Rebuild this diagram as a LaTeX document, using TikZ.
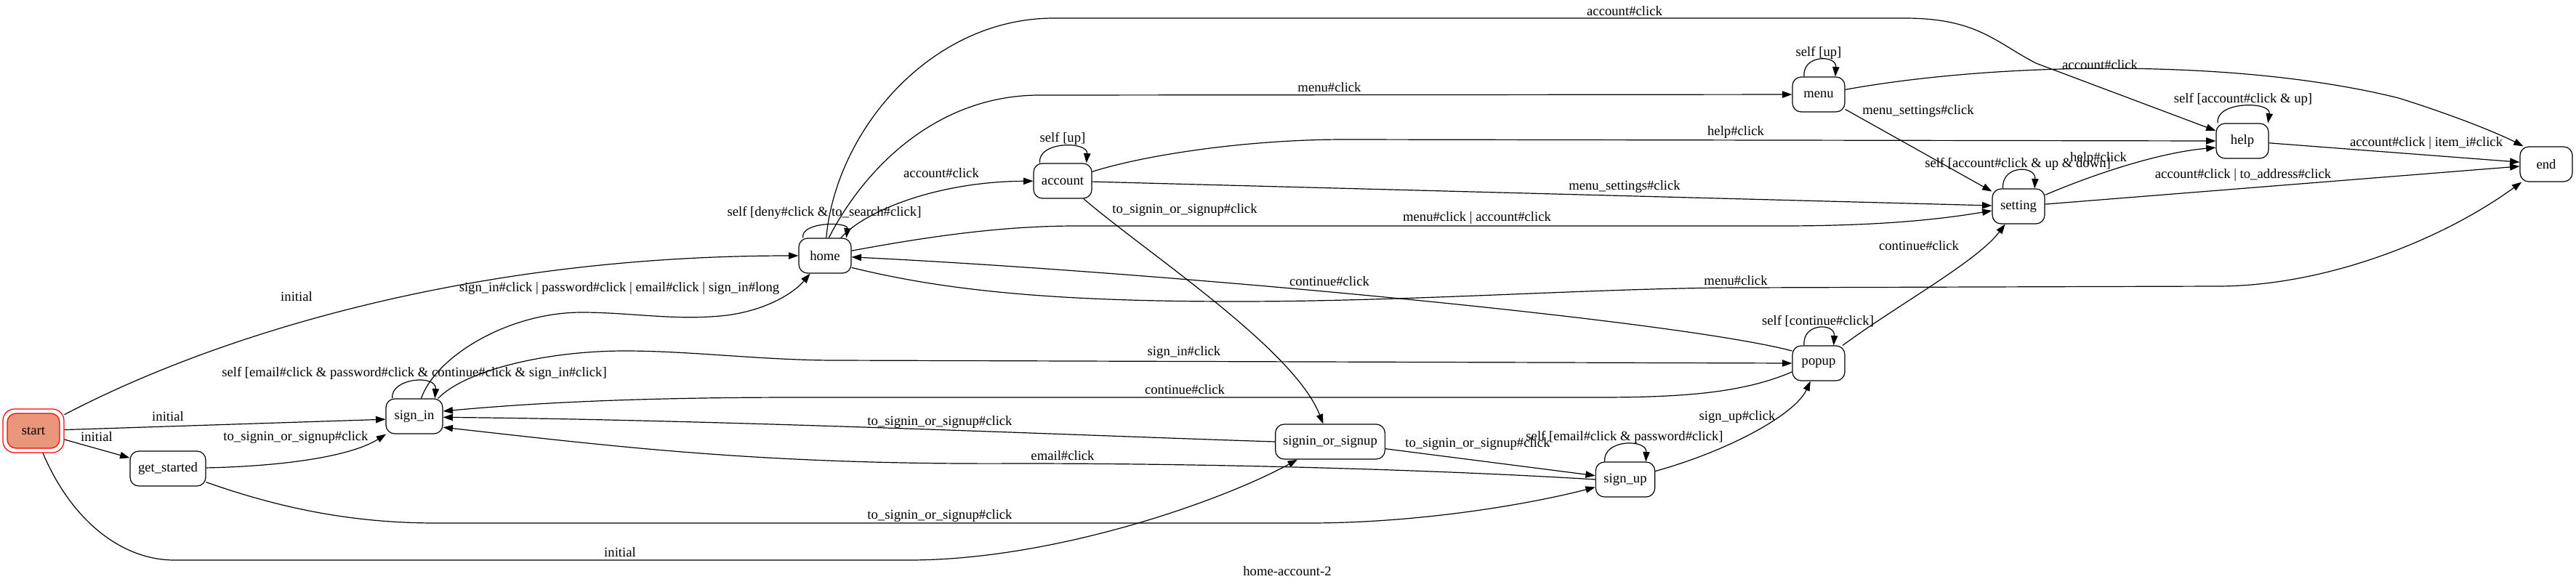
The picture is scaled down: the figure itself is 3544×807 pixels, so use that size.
\documentclass[tikz,border=0pt]{standalone}
\usepackage{fontspec}
\setmainfont{Liberation Serif}
\usetikzlibrary{arrows.meta}
\definecolor{startfill}{RGB}{233,150,122}
\newcommand{\fsz}{\fontsize{14pt}{16pt}\selectfont}
\begin{document}
\begin{tikzpicture}[x=0.75pt,y=-0.75pt,
  st/.style={draw, line width=0.9pt, rounded corners=9pt, minimum height=36pt, minimum width=#1, inner sep=0pt, font=\fsz},
  st/.default=54pt,
  lbl/.style={inner sep=0pt, font=\fsz},
  conn/.style={line width=0.9pt, -{Triangle[length=10pt,width=7pt]}}]
\useasboundingbox[fill=white] (0,0) rectangle (3544,807);
% nodes
\node[draw=red, line width=0.9pt, rounded corners=12pt, minimum width=63pt, minimum height=45pt] (start) at (46,593) {};
\node[st, draw=red, fill=startfill] (startin) at (46,593) {start};
\node[st=78pt] (getstarted) at (231,645) {get\_started};
\node[st=58.5pt] (signin) at (570,573) {sign\_in};
\node[st] (home) at (1135,352) {home};
\node[st=60pt] (account) at (1462,249) {account};
\node[st=113pt] (sos) at (1830,608) {signin\_or\_signup};
\node[st=61pt] (signup) at (2236,660) {sign\_up};
\node[st] (popup) at (2502,500) {popup};
\node[st] (menu) at (2502,130) {menu};
\node[st] (setting) at (2777,284) {setting};
\node[st] (help) at (3085,194) {help};
\node[st] (endst) at (3503,226) {end};
% edges from start
\draw[conn] (start) .. controls (300,460) and (650,352) .. (home);
\draw[conn] (start) -- (signin.186);
\draw[conn] (start) -- (getstarted);
\draw[conn] (start) .. controls (100,720) and (170,771) .. (240,771) -- (1250,771) .. controls (1450,771) and (1680,690) .. (sos);
% get_started
\draw[conn] (getstarted) .. controls (380,642) and (480,630) .. (signin);
\draw[conn] (getstarted) .. controls (400,705) and (500,720) .. (600,720) -- (1800,720) .. controls (1950,720) and (2100,695) .. (signup);
% sign_in
\draw[conn] (signin.69) .. controls (600,490) and (700,430) .. (800,430) .. controls (870,430) and (930,442) .. (1000,434) .. controls (1060,426) and (1095,400) .. (home);
\draw[conn] (signin.141) .. controls (537,520) and (601,515) .. (signin.41);
\draw[conn] (signin.37) .. controls (640,510) and (750,483) .. (860,483) .. controls (950,483) and (1050,496) .. (1150,496) -- (popup.west);
% into sign_in from right
\draw[conn] (popup.198) .. controls (2400,540) and (2320,547) .. (2200,547) -- (1100,547) .. controls (900,547) and (750,553) .. (signin.10);
\draw[conn] (sos.west) .. controls (1500,600) and (1000,578) .. (signin.-2);
\draw[conn] (signup.west) .. controls (2000,648) and (1700,638) .. (1400,638) .. controls (1050,640) and (850,615) .. (signin.-21);
% signin_or_signup, sign_up, popup
\draw[conn] (sos) -- (signup);
\draw[conn] (signup.139.4) .. controls (2205,604) and (2266,604) .. (signup.41.6);
\draw[conn] (signup) .. controls (2380,620) and (2470,570) .. (popup);
\draw[conn] (popup.129.8) .. controls (2479,444) and (2525,444) .. (popup.50.2);
\draw[conn] (popup) .. controls (2610,420) and (2720,360) .. (setting);
\draw[conn] (popup.155) .. controls (2300,440) and (1600,375) .. (home);
% home
\draw[conn] (home.-24) .. controls (1300,400) and (1450,415) .. (1700,415) .. controls (1950,415) and (2200,396) .. (2400,396) -- (3050,394) .. controls (3200,394) and (3360,330) .. (endst);
\draw[conn] (home) .. controls (1280,325) and (1380,311) .. (1480,311) -- (2450,311) .. controls (2600,311) and (2680,300) .. (setting);
\draw[conn] (home) .. controls (1190,290) and (1290,250) .. (account);
\draw[conn] (home.141.3) .. controls (1101,305) and (1167,305) .. (home.40.6);
\draw[conn] (home.78) .. controls (1190,230) and (1290,131) .. (1430,131) -- (menu);
\draw[conn] (home.86) .. controls (1150,180) and (1280,25) .. (1450,25) -- (2620,25) .. controls (2720,25) and (2745,58) .. (2801,87) -- (help.159);
% account
\draw[conn] (account.142.3) .. controls (1427,194) and (1497,194) .. (account.37.7);
\draw[conn] (account) .. controls (1580,212) and (1720,192) .. (1850,192) -- (help.west);
\draw[conn] (account) -- (setting);
\draw[conn] (account) .. controls (1580,350) and (1780,480) .. (sos);
% menu
\draw[conn] (menu.129.8) .. controls (2479,75) and (2527,75) .. (menu.47.5);
\draw[conn] (menu) .. controls (2750,85) and (3080,80) .. (3300,135) .. controls (3380,160) and (3440,185) .. (endst.142);
\draw[conn] (menu) -- (setting);
% setting
\draw[conn] (setting.131.2) .. controls (2753,227) and (2801,227) .. (setting.48.8);
\draw[conn] (setting) .. controls (2880,240) and (2970,210) .. (help.194);
\draw[conn] (setting) -- (endst);
% help
\draw[conn] (help) -- (endst);
\draw[conn] (help.144.8) .. controls (3047,139) and (3125,139) .. (help.35.2);
% labels
\node[lbl] (l1) at (408,408) {initial};
\node[lbl] (l2) at (231,573) {initial};
\node[lbl] (l3) at (133,601) {initial};
\node[lbl] (l4) at (853,760) {initial};
\node[lbl] (l5) at (407,602) {to\_signin\_or\_signup\#click};
\node[lbl] (l6) at (1293,710) {to\_signin\_or\_signup\#click};
\node[lbl] (l7) at (852,397) {sign\_in\#click | password\#click | email\#click | sign\_in\#long};
\node[lbl] (l8) at (570,514) {self [email\#click \& password\#click \& continue\#click \& sign\_in\#click]};
\node[lbl] (l9) at (1630,536) {continue\#click};
\node[lbl] (l10) at (1629,485) {sign\_in\#click};
\node[lbl] (l11) at (1293,581) {to\_signin\_or\_signup\#click};
\node[lbl] (l12) at (1462,627) {email\#click};
\node[lbl] (l13) at (2033,611) {to\_signin\_or\_signup\#click};
\node[lbl] (l14) at (2235,602) {self [email\#click \& password\#click]};
\node[lbl] (l15) at (2390,574) {sign\_up\#click};
\node[lbl] (l16) at (2501,442) {self [continue\#click]};
\node[lbl] (l17) at (2640,338) {continue\#click};
\node[lbl] (l18) at (1829,387) {continue\#click};
\node[lbl] (l19) at (2388,386) {menu\#click};
\node[lbl] (l20) at (2032,300) {menu\#click | account\#click};
\node[lbl] (l21) at (1295,238) {account\#click};
\node[lbl] (l22) at (1134,293) {self [deny\#click \& to\_search\#click]};
\node[lbl] (l23) at (1829,120) {menu\#click};
\node[lbl] (l24) at (2235,15) {account\#click};
\node[lbl] (l25) at (1462,191) {self [up]};
\node[lbl] (l26) at (2388,182) {help\#click};
\node[lbl] (l27) at (2235,257) {menu\_settings\#click};
\node[lbl] (l28) at (1630,289) {to\_signin\_or\_signup\#click};
\node[lbl] (l29) at (2502,73) {self [up]};
\node[lbl] (l30) at (2889,89) {account\#click};
\node[lbl] (l31) at (2639,153) {menu\_settings\#click};
\node[lbl] (l32) at (2776,226) {self [account\#click \& up \& down]};
\node[lbl] (l33) at (2887,218) {help\#click};
\node[lbl] (l34) at (3086,241) {account\#click | to\_address\#click};
\node[lbl] (l35) at (3338,197) {account\#click | item\_i\#click};
\node[lbl] (l36) at (3086,137) {self [account\#click \& up]};
\node[lbl] (title) at (1771,786) {home-account-2};
\end{tikzpicture}
\end{document}
